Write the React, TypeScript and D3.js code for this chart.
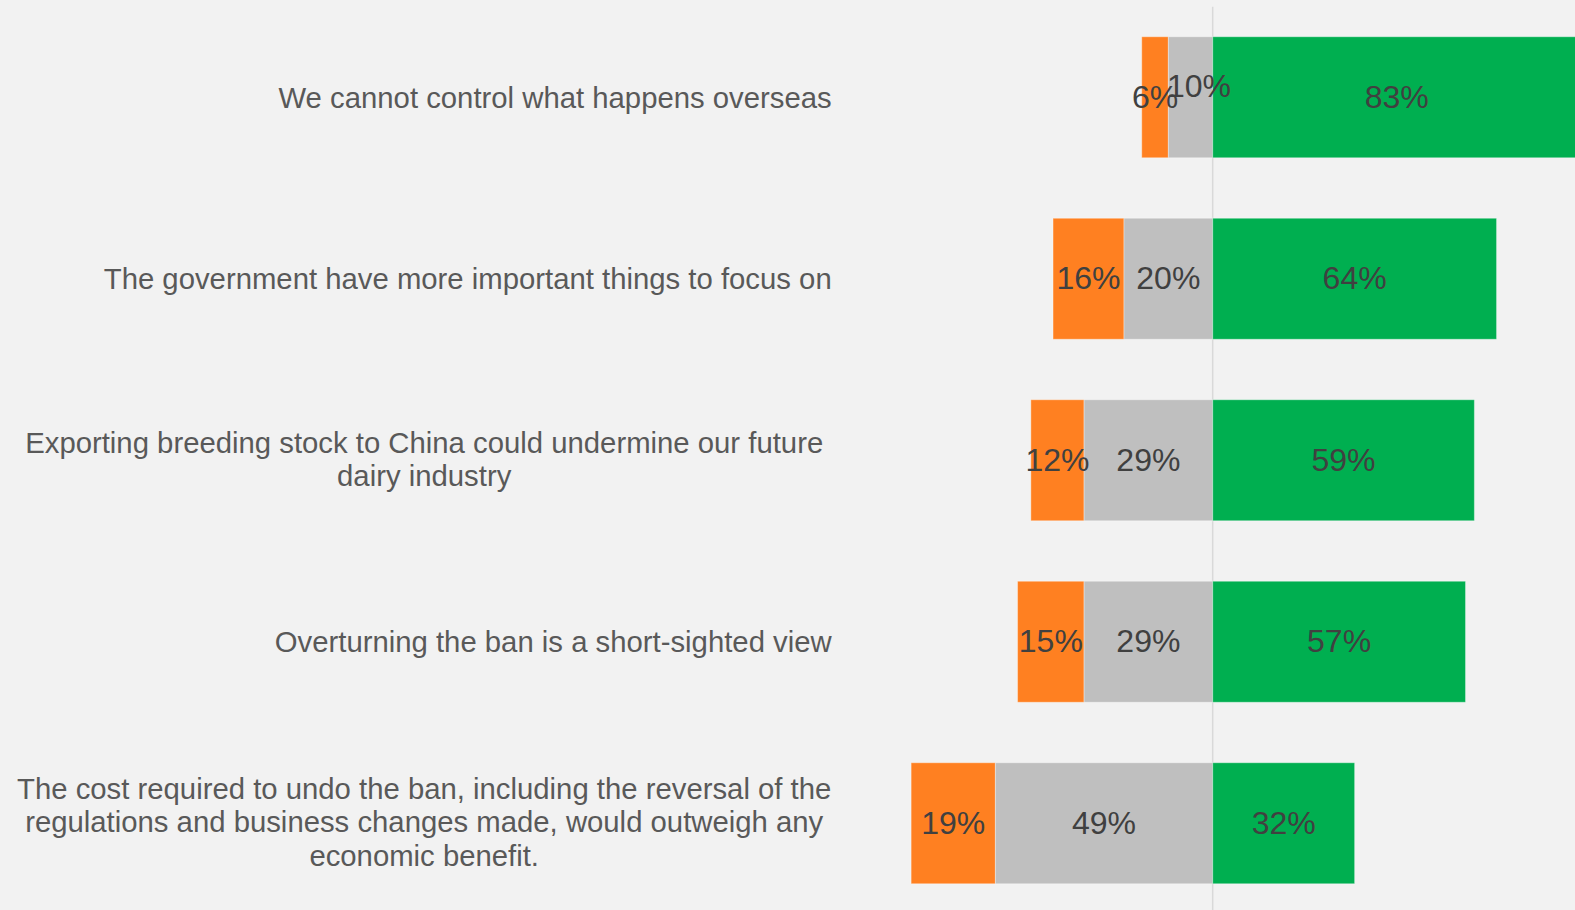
import React from "react";
import * as d3 from "d3";

const categories = [
  "We cannot control what happens overseas",
  "The government have more important things to focus on",
  "Exporting breeding stock to China could undermine our future dairy industry",
  "Overturning the ban is a short-sighted view",
  "The cost required to undo the ban, including the reversal of the regulations and business changes made, would outweigh any economic benefit.",
];

const categoryLines = [
  ["We cannot control what happens overseas"],
  ["The government have more important things to focus on"],
  ["Exporting breeding stock to China could undermine our future", "dairy industry"],
  ["Overturning the ban is a short-sighted view"],
  [
    "The cost required to undo the ban, including the reversal of the",
    "regulations and business changes made, would outweigh any",
    "economic benefit.",
  ],
];

const disagree = [6, 16, 12, 15, 19];
const neutral = [10, 20, 29, 29, 49];
const agree = [83, 64, 59, 57, 32];

// manual label nudges (px) for crowded labels: [row, series] -> [dx, dy]
const labelNudge: Record<string, [number, number]> = { "0-neutral": [8.5, -11] };

const W = 1575;
const H = 910;
const BG = "#F2F2F2";
const COLORS = { disagree: "#FF8021", neutral: "#BFBFBF", agree: "#00AF50" };

export default function App() {
  const x = d3.scaleLinear().domain([-60, 83]).range([1212.7 - 60 * 4.435, 1212.7 + 83 * 4.435]);
  const y = d3
    .scaleBand<string>()
    .domain(categories)
    .range([6.5, 914])
    .paddingInner(1 / 3)
    .paddingOuter(1 / 6);

  const catFs = 29.3;
  const valFs = 32;
  const lineH = 33.4;
  const labelRight = 831.7;
  const wrapWidth = 815;

  const segs: any[] = [];
  categories.forEach((c, i) => {
    const y0 = y(c)!;
    const bh = y.bandwidth();
    const parts = [
      { key: "disagree", x0: -(neutral[i] + disagree[i]), x1: -neutral[i], v: disagree[i] },
      { key: "neutral", x0: -neutral[i], x1: 0, v: neutral[i] },
      { key: "agree", x0: 0, x1: agree[i], v: agree[i] },
    ];
    parts.forEach((p) => segs.push({ ...p, i, y0, bh }));
  });

  return (
    <svg
      width={W}
      height={H}
      style={{ position: "absolute", left: 0, top: 0, display: "block" }}
      fontFamily="'Liberation Sans', Arial, sans-serif"
    >
      <rect x={0} y={0} width={W} height={H} fill={BG} />
      <line x1={x(0)} x2={x(0)} y1={6.7} y2={H} stroke="#D9D9D9" strokeWidth={1.5} />
      {segs.map((s, k) => (
        <rect
          key={k}
          x={x(s.x0)}
          y={s.y0}
          width={x(s.x1) - x(s.x0)}
          height={s.bh}
          fill={(COLORS as any)[s.key]}
          stroke="#FFFFFF"
          strokeOpacity={0.35}
          strokeWidth={1}
        />
      ))}
      {segs.map((s, k) => {
        const n = labelNudge[`${s.i}-${s.key}`] || [0, 0];
        const cx = (x(s.x0) + x(s.x1)) / 2 + n[0];
        const cy = s.y0 + s.bh / 2 + n[1];
        return (
          <text
            key={"l" + k}
            x={cx}
            y={cy + 30 * 0.358}
            textAnchor="middle"
            fontSize={valFs}
            fill="#404040"
          >
            {s.v}%
          </text>
        );
      })}
      {categories.map((c, i) => {
        const lines = categoryLines[i];
        const cy = y(c)! + y.bandwidth() / 2;
        const multi = lines.length > 1;
        const tx = multi ? labelRight - wrapWidth / 2 : labelRight;
        return (
          <text
            key={"c" + i}
            fontSize={catFs}
            fill="#595959"
            textAnchor={multi ? "middle" : "end"}
          >
            {lines.map((ln, j) => (
              <tspan
                key={j}
                x={tx}
                y={cy + (j - (lines.length - 1) / 2) * lineH + catFs * 0.358 - (multi ? 1.5 : 0)}
              >
                {ln}
              </tspan>
            ))}
          </text>
        );
      })}
    </svg>
  );
}
